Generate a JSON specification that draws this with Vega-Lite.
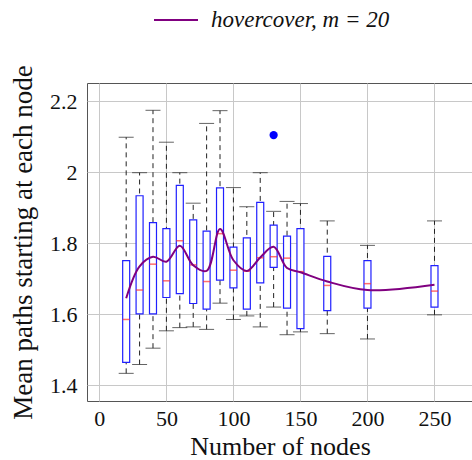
{
  "$schema": "https://vega.github.io/schema/vega-lite/v6.json",
  "width": 386,
  "height": 318,
  "autosize": {"type": "none"},
  "padding": {"left": 87, "top": 83, "right": 0, "bottom": 59},
  "background": "white",
  "datasets": {
    "boxes": [
      {"n": 20, "lo": 1.433, "q1": 1.464, "med": 1.585, "q3": 1.751, "hi": 2.099},
      {"n": 30, "lo": 1.458, "q1": 1.601, "med": 1.668, "q3": 1.934, "hi": 1.999},
      {"n": 40, "lo": 1.504, "q1": 1.601, "med": 1.741, "q3": 1.858, "hi": 2.175},
      {"n": 50, "lo": 1.553, "q1": 1.647, "med": 1.694, "q3": 1.841, "hi": 2.085},
      {"n": 60, "lo": 1.562, "q1": 1.658, "med": 1.807, "q3": 1.963, "hi": 1.999},
      {"n": 70, "lo": 1.564, "q1": 1.630, "med": 1.739, "q3": 1.866, "hi": 1.913},
      {"n": 80, "lo": 1.557, "q1": 1.614, "med": 1.692, "q3": 1.834, "hi": 2.138},
      {"n": 90, "lo": 1.631, "q1": 1.696, "med": 1.827, "q3": 1.956, "hi": 2.174},
      {"n": 100, "lo": 1.585, "q1": 1.674, "med": 1.724, "q3": 1.789, "hi": 1.957},
      {"n": 110, "lo": 1.595, "q1": 1.614, "med": 1.721, "q3": 1.815, "hi": 1.903},
      {"n": 120, "lo": 1.564, "q1": 1.688, "med": 1.759, "q3": 1.915, "hi": 1.999},
      {"n": 130, "lo": 1.620, "q1": 1.732, "med": 1.762, "q3": 1.851, "hi": 1.890},
      {"n": 140, "lo": 1.542, "q1": 1.617, "med": 1.758, "q3": 1.820, "hi": 1.918},
      {"n": 150, "lo": 1.550, "q1": 1.559, "med": 1.720, "q3": 1.841, "hi": 1.912},
      {"n": 170, "lo": 1.545, "q1": 1.610, "med": 1.681, "q3": 1.763, "hi": 1.863},
      {"n": 200, "lo": 1.530, "q1": 1.617, "med": 1.686, "q3": 1.751, "hi": 1.794},
      {"n": 250, "lo": 1.598, "q1": 1.620, "med": 1.665, "q3": 1.737, "hi": 1.863}
    ],
    "outliers": [
      {"n": 130, "v": 2.105}
    ],
    "means": [
      {"n": 20, "v": 1.645},
      {"n": 30, "v": 1.735},
      {"n": 40, "v": 1.762},
      {"n": 50, "v": 1.748},
      {"n": 60, "v": 1.793},
      {"n": 70, "v": 1.738},
      {"n": 80, "v": 1.722},
      {"n": 90, "v": 1.840},
      {"n": 100, "v": 1.752},
      {"n": 110, "v": 1.722},
      {"n": 120, "v": 1.760},
      {"n": 130, "v": 1.790},
      {"n": 140, "v": 1.730},
      {"n": 150, "v": 1.718},
      {"n": 170, "v": 1.692},
      {"n": 200, "v": 1.668},
      {"n": 250, "v": 1.683}
    ]
  },
  "encoding": {
    "x": {
      "field": "n",
      "type": "quantitative",
      "scale": {"domain": [-5.5, 275], "nice": false, "zero": false},
      "axis": {
        "title": "Number of nodes",
        "values": [0, 50, 100, 150, 200, 250],
        "labelPadding": 7,
        "titlePadding": 4,
        "titleFontSize": 26
      }
    }
  },
  "layer": [
    {
      "data": {"name": "boxes"},
      "mark": {"type": "rule", "color": "#222222", "strokeWidth": 1, "strokeDash": [5, 4]},
      "encoding": {
        "y": {
          "field": "lo",
          "type": "quantitative",
          "scale": {"domain": [1.355, 2.252], "nice": false, "zero": false},
          "axis": {
            "title": "Mean paths starting at each node",
            "values": [1.4, 1.6, 1.8, 2.0, 2.2],
            "labelExpr": "format(datum.value, '~g')",
            "labelPadding": 10,
            "titlePadding": 12,
            "titleFontSize": 27
          }
        },
        "y2": {"field": "hi"}
      }
    },
    {
      "data": {"name": "boxes"},
      "mark": {"type": "tick", "orient": "horizontal", "color": "#222222", "size": 15, "thickness": 1},
      "encoding": {"y": {"field": "lo", "type": "quantitative"}}
    },
    {
      "data": {"name": "boxes"},
      "mark": {"type": "tick", "orient": "horizontal", "color": "#222222", "size": 15, "thickness": 1},
      "encoding": {"y": {"field": "hi", "type": "quantitative"}}
    },
    {
      "data": {"name": "boxes"},
      "mark": {"type": "bar", "size": 7, "fill": "white", "stroke": "#2020ff", "strokeWidth": 1.2},
      "encoding": {
        "y": {"field": "q1", "type": "quantitative"},
        "y2": {"field": "q3"}
      }
    },
    {
      "data": {"name": "boxes"},
      "mark": {"type": "tick", "orient": "horizontal", "color": "#ff3030", "size": 7, "thickness": 1.5},
      "encoding": {"y": {"field": "med", "type": "quantitative"}}
    },
    {
      "data": {"name": "outliers"},
      "mark": {"type": "point", "shape": "circle", "filled": true, "color": "#0000ff", "size": 68, "opacity": 1},
      "encoding": {"y": {"field": "v", "type": "quantitative"}}
    },
    {
      "data": {"name": "means"},
      "mark": {"type": "line", "interpolate": "catmull-rom", "strokeWidth": 2},
      "encoding": {
        "y": {"field": "v", "type": "quantitative"},
        "color": {
          "datum": "hovercover, m = 20",
          "type": "nominal",
          "scale": {"range": ["#800080"]},
          "legend": {
            "title": null,
            "orient": "none",
            "legendX": 66,
            "legendY": -86,
            "symbolType": "stroke",
            "symbolSize": 1936,
            "symbolStrokeWidth": 2,
            "labelOffset": 12,
            "labelLimit": 400,
            "labelFont": "Liberation Serif",
            "labelFontStyle": "italic",
            "labelFontSize": 23,
            "labelColor": "#111111",
            "padding": 0
          }
        }
      }
    }
  ],
  "config": {
    "view": {"stroke": "#555555", "strokeWidth": 1},
    "axis": {
      "grid": true,
      "gridColor": "#c8c8c8",
      "gridWidth": 1,
      "domain": false,
      "ticks": false,
      "labelFont": "Liberation Serif",
      "labelFontSize": 22,
      "labelColor": "#111111",
      "titleFont": "Liberation Serif",
      "titleFontSize": 25,
      "titleFontWeight": "normal",
      "titleColor": "#111111"
    }
  }
}
